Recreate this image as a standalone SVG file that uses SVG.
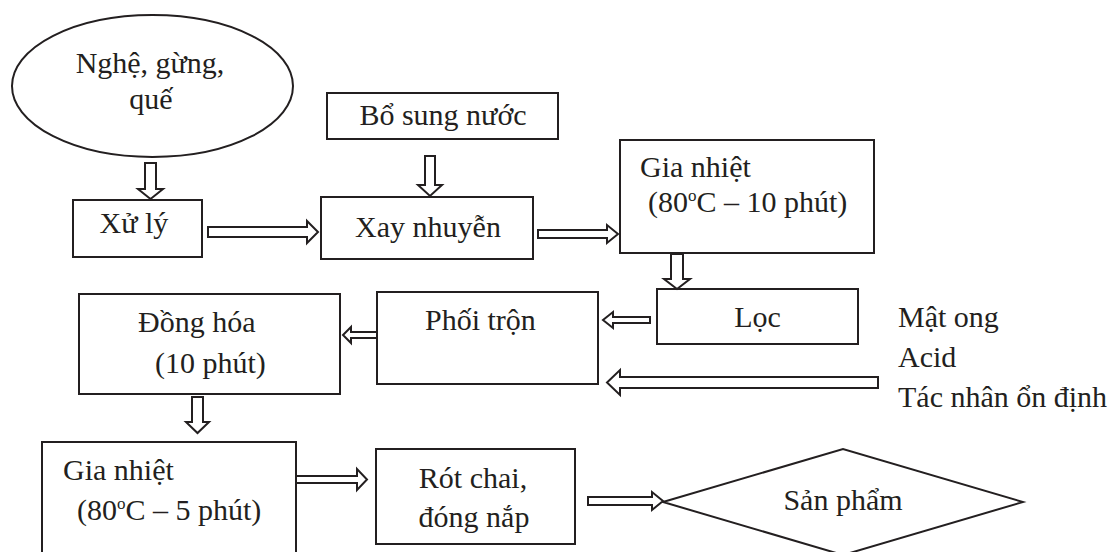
<svg xmlns="http://www.w3.org/2000/svg" width="1111" height="552" viewBox="0 0 1111 552" font-family="'Liberation Serif', 'DejaVu Serif', serif">
<style>
.n{fill:#fff;stroke:#231f20;stroke-width:2}
.a{fill:#fff;stroke:#231f20;stroke-width:2;stroke-linejoin:miter}
text{font-family:'Liberation Serif', 'DejaVu Serif', serif;font-size:30px;fill:#231f20}
.m{text-anchor:middle}
.sup{font-size:17px}
</style>
<rect width="1111" height="552" fill="#fff"/>
<g id="n-nguyenlieu">
<ellipse class="n" cx="152.5" cy="86" rx="140.5" ry="71"/>
<text class="m" x="150" y="73">Nghệ, gừng,</text>
<text class="m" x="151" y="109">quế</text>
</g>
<g id="n-bosung">
<rect class="n" x="327" y="93" width="231" height="46"/>
<text class="m" x="443" y="125">Bổ sung nước</text>
</g>
<g id="n-xuly">
<rect class="n" x="73" y="200" width="129" height="57"/>
<text class="m" x="134" y="233">Xử lý</text>
</g>
<g id="n-xay">
<rect class="n" x="321" y="197" width="212" height="62"/>
<text class="m" x="428" y="237">Xay nhuyễn</text>
</g>
<g id="n-gianhiet1">
<rect class="n" x="620" y="140" width="254" height="113"/>
<text x="640" y="177">Gia nhiệt</text>
<text x="648" y="212">(80<tspan class="sup" dy="-11">o</tspan><tspan dy="11">C – 10 phút)</tspan></text>
</g>
<g id="n-loc">
<rect class="n" x="657" y="289" width="201" height="55"/>
<text class="m" x="757.5" y="327">Lọc</text>
</g>
<g id="n-phoitron">
<rect class="n" x="377" y="292" width="221" height="92"/>
<text x="425" y="330">Phối trộn</text>
</g>
<g id="n-phugia">
<text x="898" y="327">Mật ong</text>
<text x="898" y="367">Acid</text>
<text x="898" y="407">Tác nhân ổn định</text>
</g>
<g id="n-donghoa">
<rect class="n" x="79" y="294" width="261" height="100"/>
<text x="138" y="332">Đồng hóa</text>
<text x="155" y="373">(10 phút)</text>
</g>
<g id="n-gianhiet2">
<rect class="n" x="42" y="442" width="254" height="120"/>
<text x="63" y="480">Gia nhiệt</text>
<text x="77" y="520">(80<tspan class="sup" dy="-11">o</tspan><tspan dy="11">C – 5 phút)</tspan></text>
</g>
<g id="n-rotchai">
<rect class="n" x="376" y="449" width="199" height="95"/>
<text class="m" x="473" y="488">Rót chai,</text>
<text class="m" x="474" y="527">đóng nắp</text>
</g>
<g id="n-sanpham">
<polygon class="n" points="663,502 843,449 1023,502 843,555"/>
<text class="m" x="843" y="510">Sản phẩm</text>
</g>
<g id="connectors">
<polygon class="a" points="145,163 156,163 156,189 163,189 150.5,199 138,189 145,189"/>
<polygon class="a" points="208,227 307,227 307,221 318,232 307,243 307,237 208,237"/>
<polygon class="a" points="425,156 435,156 435,185 442,185 430,196 418,185 425,185"/>
<polygon class="a" points="538,230 607,230 607,225 618,234 607,243 607,238 538,238"/>
<polygon class="a" points="671,254 683,254 683,279 690,279 677,289 664,279 671,279"/>
<polygon class="a" points="650,317 613,317 613,312 603,320 613,328 613,323 650,323"/>
<polygon class="a" points="878,377 620,377 620,370 607,382.5 620,395 620,388 878,388"/>
<polygon class="a" points="377,332 351,332 351,327 343,335 351,343 351,338 377,338"/>
<polygon class="a" points="192,397 203,397 203,422 209,422 197.5,433 186,422 192,422"/>
<polygon class="a" points="296,476 357,476 357,469 367,479.5 357,490 357,483 296,483"/>
<polygon class="a" points="588,497 652,497 652,492 663,501 652,510 652,505 588,505"/>
</g>
</svg>
